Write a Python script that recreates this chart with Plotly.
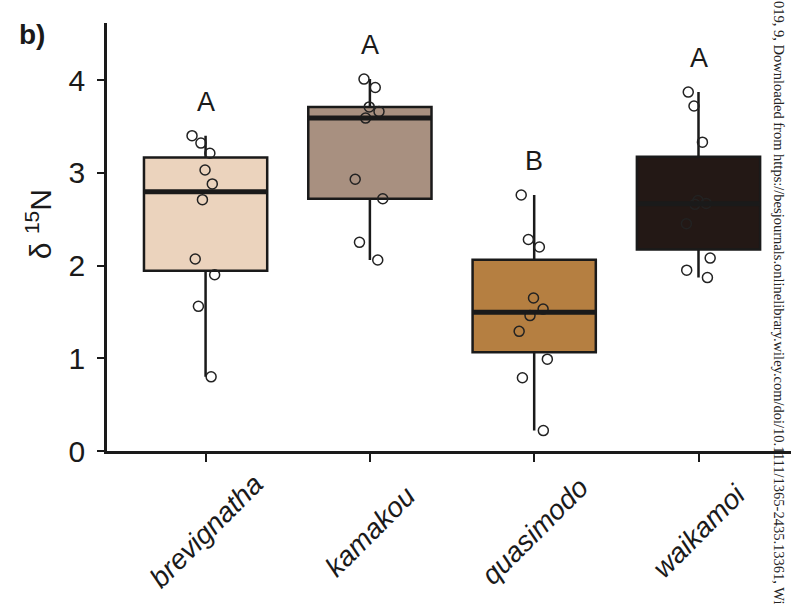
import numpy as np
import plotly.graph_objects as go

# delta-15N values per species
species = ["brevignatha", "kamakou", "quasimodo", "waikamoi"]
brevignatha = [3.40, 3.32, 3.21, 3.03, 2.88, 2.71, 2.07, 1.90, 1.56, 0.80]
kamakou = [4.01, 3.92, 3.71, 3.66, 3.59, 2.93, 2.72, 2.25, 2.06]
quasimodo = [2.76, 2.28, 2.20, 1.65, 1.53, 1.46, 1.29, 0.99, 0.79, 0.22]
waikamoi = [3.87, 3.72, 3.33, 2.70, 2.67, 2.66, 2.45, 2.08, 1.95, 1.87]
groups = [brevignatha, kamakou, quasimodo, waikamoi]
letters = ["A", "A", "B", "A"]
y_ticks = [0, 1, 2, 3, 4]

fills = ["#EBD3BD", "#A89080", "#B57F41", "#231815"]
ink = "#1a1a1a"
box_width = 0.75


def tukey(vals):
    v = np.sort(np.asarray(vals, dtype=float))
    q1, med, q3 = np.percentile(v, [25, 50, 75])
    iqr = q3 - q1
    lo = v[v >= q1 - 1.5 * iqr].min()
    hi = v[v <= q3 + 1.5 * iqr].max()
    return q1, med, q3, lo, hi


fig = go.Figure()
stats = []
for name, vals, fill in zip(species, groups, fills):
    q1, med, q3, lo, hi = tukey(vals)
    stats.append((q1, med, q3, lo, hi))
    fig.add_trace(go.Box(
        x=[name], y=[vals], orientation="v",
        q1=[q1], median=[med], q3=[q3], lowerfence=[lo], upperfence=[hi],
        fillcolor=fill, line=dict(color=ink, width=2.5), whiskerwidth=0,
        boxpoints="all", jitter=0.3, pointpos=0,
        marker=dict(symbol="circle-open", size=10, color="#222222",
                    line=dict(width=1.5)),
        showlegend=False, hoverinfo="skip",
    ))

# thick median bars and significance letters
for i, (name, st) in enumerate(zip(species, stats)):
    q1, med, q3, lo, hi = st
    fig.add_shape(type="line", xref="x", yref="y",
                  x0=i - box_width / 2, x1=i + box_width / 2, y0=med, y1=med,
                  line=dict(color=ink, width=5), layer="above")
    fig.add_annotation(x=name, y=hi, xref="x", yref="y", yshift=34,
                       text=letters[i], showarrow=False,
                       font=dict(size=27, color=ink),
                       xanchor="center", yanchor="middle")
    fig.add_annotation(x=name, y=0, xref="x", yref="paper", yshift=-80,
                       text=f"<i>{name}</i>", textangle=-45, showarrow=False,
                       font=dict(size=28, color=ink),
                       xanchor="center", yanchor="middle")

# y-axis title
fig.add_annotation(x=0, y=0.53, xref="paper", yref="paper", xshift=-68,
                   text="δ <sup>15</sup>N", textangle=-90, showarrow=False,
                   font=dict(size=30, color=ink),
                   xanchor="center", yanchor="middle")
# panel tag
fig.add_annotation(x=0, y=1, xref="paper", yref="paper", xshift=-75, yshift=-11,
                   text="<b>b)</b>", showarrow=False,
                   font=dict(size=28, color=ink),
                   xanchor="center", yanchor="middle")
# download stamp along the right edge
fig.add_annotation(x=1, y=0.348, xref="paper", yref="paper", xshift=-12,
                   text="019, 9, Downloaded from https://besjournals.onlinelibrary.wiley.com/doi/10.1111/1365-2435.13361, Wi",
                   textangle=90, showarrow=False,
                   font=dict(size=14.5, color="#222222", family="Liberation Serif, Times New Roman, serif"),
                   xanchor="center", yanchor="middle")

fig.update_layout(
    width=791, height=604,
    margin=dict(l=107, r=0, t=23, b=153),
    plot_bgcolor="white", paper_bgcolor="white",
    boxmode="overlay", boxgap=1 - box_width, boxgroupgap=0,
    font=dict(family="Liberation Sans, Arial, sans-serif", color=ink),
)
fig.update_xaxes(
    type="category", categoryorder="array", categoryarray=species,
    range=[-0.6, 3.563], showline=True, linecolor=ink, linewidth=2.5,
    ticks="outside", ticklen=8, tickwidth=2, tickcolor=ink,
    showticklabels=False, showgrid=False, zeroline=False,
)
fig.update_yaxes(
    range=[0, 4.615], tickvals=y_ticks, showline=True, linecolor=ink,
    linewidth=2.5, ticks="outside", ticklen=7, tickwidth=2, tickcolor=ink,
    tickfont=dict(size=30, color=ink), ticklabelstandoff=6,
    showgrid=False, zeroline=False,
)

fig.write_html("out.html")
